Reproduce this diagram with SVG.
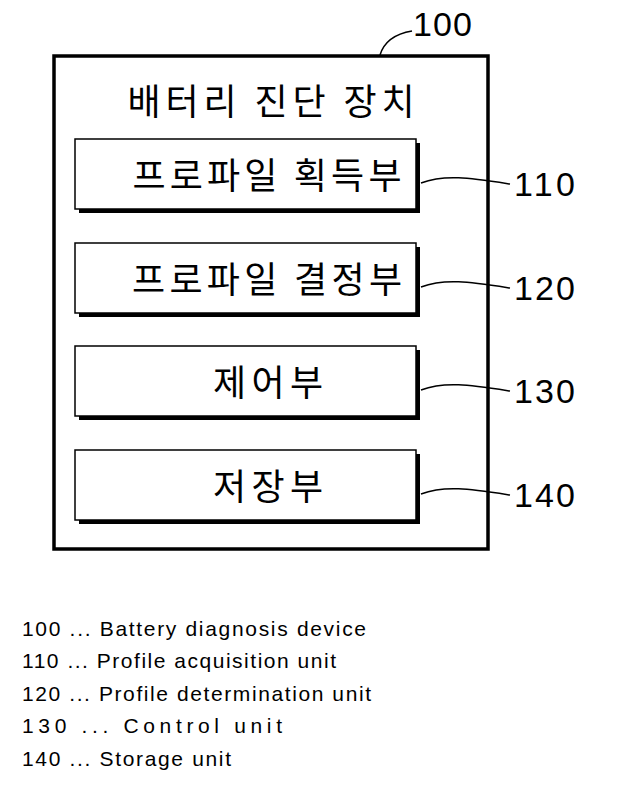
<svg xmlns="http://www.w3.org/2000/svg" width="620" height="801" viewBox="0 0 620 801">
<style>
.b{fill:#fff;stroke:#000;stroke-width:1.5}
.s{fill:#000}
.k{font-family:"Noto Sans CJK KR",sans-serif;font-size:36px;text-anchor:middle}
.n{font-family:"Liberation Sans",sans-serif;font-size:34px}
.l{font-family:"Liberation Sans",sans-serif;font-size:21px}
.c{fill:none;stroke:#000;stroke-width:1.5}
</style>
<rect width="620" height="801" fill="#fff"/>
<g id="n100">
<rect x="54" y="56" width="434" height="493" fill="#fff" stroke="#000" stroke-width="3.5"/>
<text class="k" x="271" y="115" textLength="287">배터리 진단 장치</text>
</g>
<g id="n110"><rect class="s" x="79" y="143" width="341" height="70"/><rect class="b" x="75" y="139" width="341" height="70"/><text class="k" x="267" y="189" textLength="269">프로파일 획득부</text></g>
<g id="n120"><rect class="s" x="79" y="247" width="341" height="70"/><rect class="b" x="75" y="243" width="341" height="70"/><text class="k" x="267" y="293" textLength="270">프로파일 결정부</text></g>
<g id="n130"><rect class="s" x="79" y="350" width="341" height="70"/><rect class="b" x="75" y="346" width="341" height="70"/><text class="k" x="268" y="396" textLength="110">제어부</text></g>
<g id="n140"><rect class="s" x="79" y="454" width="341" height="70"/><rect class="b" x="75" y="450" width="341" height="70"/><text class="k" x="268" y="500" textLength="110">저장부</text></g>
<g id="connectors">
<path class="c" d="M380 55 C384 42 394 34 412 31"/>
<path class="c" d="M421 183 C445 174 470 178 510 184"/>
<path class="c" d="M421 287 C445 278 470 282 510 288"/>
<path class="c" d="M421 390 C445 381 470 385 510 391"/>
<path class="c" d="M421 494 C445 485 470 489 510 495"/>
</g>
<text class="n" x="413" y="36" textLength="59">100</text>
<text class="n" x="514" y="196" textLength="61">110</text>
<text class="n" x="514" y="300" textLength="61">120</text>
<text class="n" x="514" y="403" textLength="61">130</text>
<text class="n" x="514" y="507" textLength="61">140</text>
<g class="l">
<text x="22" y="636" textLength="344">100 ... Battery diagnosis device</text>
<text x="22" y="668" textLength="314">110 ... Profile acquisition unit</text>
<text x="22" y="701" textLength="349">120 ... Profile determination unit</text>
<text x="22" y="733" textLength="260">130 ... Control unit</text>
<text x="22" y="766" textLength="209">140 ... Storage unit</text>
</g>
</svg>
